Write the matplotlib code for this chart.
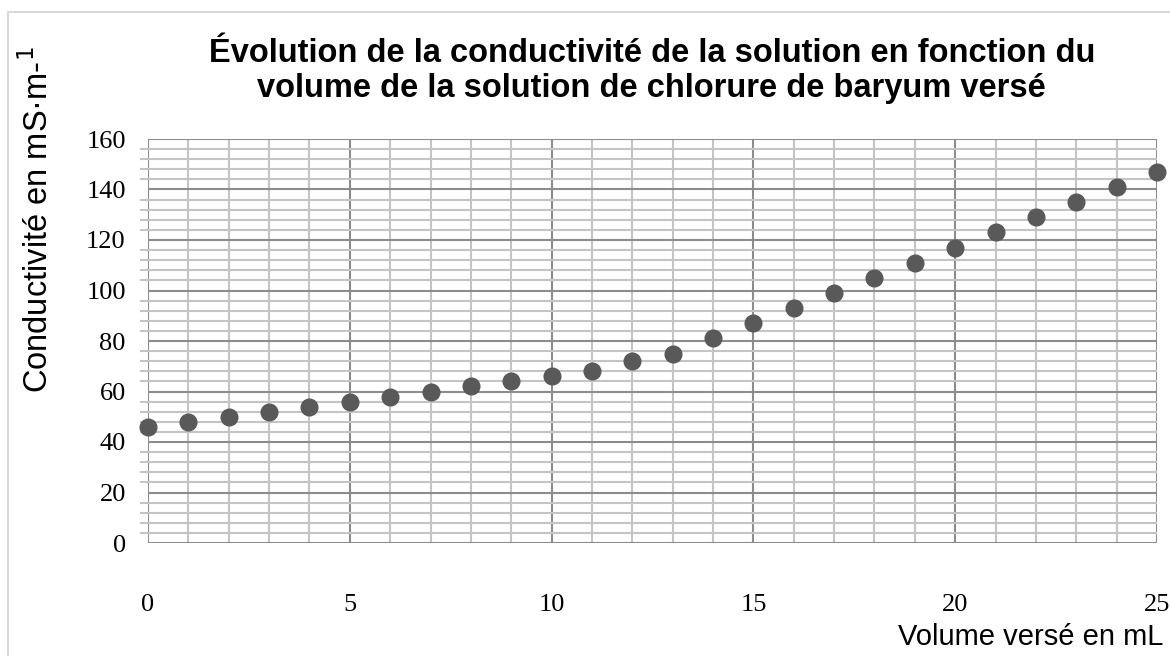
import matplotlib
matplotlib.use('Agg')
import matplotlib.pyplot as plt
from matplotlib.patches import Rectangle
from matplotlib.ticker import MultipleLocator

# volume verse (mL) et conductivite (mS/m)
volume = [0, 1, 2, 3, 4, 5, 6, 7, 8, 9, 10, 11, 12,
          13, 14, 15, 16, 17, 18, 19, 20, 21, 22, 23, 24, 25]
conductivite = [46, 48, 50, 52, 54, 56, 58, 60, 62, 64, 66, 68, 72,
                75, 81, 87, 93, 99, 105, 111, 117, 123, 129, 135, 141, 147]

titre = ("Évolution de la conductivité de la solution en fonction du\n"
         "volume de la solution de chlorure de baryum versé")
label_y = "Conductivité en mS·m-$^{1}$"
label_x = "Volume versé en mL"

fig = plt.figure(figsize=(11.7, 6.56), dpi=100)
# cadre gris clair autour du graphique
fig.patches.append(Rectangle((8 / 1170, -0.1), 1.2, 1 - 12 / 656 + 0.1,
                             transform=fig.transFigure, fill=False,
                             edgecolor='#d9d9d9', linewidth=1.5))

ax = fig.add_axes([148 / 1170, 1 - 543 / 656, (1157 - 148) / 1170, (543 - 139) / 656])
ax.set_xlim(0, 25)
ax.set_ylim(0, 160)

ax.xaxis.set_major_locator(MultipleLocator(5))
ax.xaxis.set_minor_locator(MultipleLocator(1))
ax.yaxis.set_major_locator(MultipleLocator(20))
ax.yaxis.set_minor_locator(MultipleLocator(4))

ax.grid(which='minor', color='#c4c4c4', linewidth=1.5)
ax.grid(which='major', color='#8c8c8c', linewidth=1.5)
ax.set_axisbelow(True)
for s in ax.spines.values():
    s.set_visible(False)

ax.tick_params(axis='x', which='both', length=0, pad=37)
ax.tick_params(axis='y', which='major', length=0, pad=16)
ax.tick_params(axis='y', which='minor', length=6, color='#c4c4c4', width=1.5)
for lab in ax.get_xticklabels() + ax.get_yticklabels():
    lab.set_family('Liberation Serif')
    lab.set_fontsize(19)

ax.plot(volume, conductivite, 'o', color='#595959', markersize=12,
        clip_on=False, zorder=5)

fig.text(0.557, 1 - 71 / 656, titre, ha='center', va='center', fontsize=23.5,
         fontweight='bold', family='Liberation Sans', linespacing=1.18)
fig.text(38 / 1170, 1 - 220 / 656, label_y, rotation=90, ha='center', va='center',
         fontsize=23.5, family='Liberation Sans')
fig.text(1163 / 1170, 1 - 637 / 656, label_x, ha='right', va='center',
         fontsize=21, family='Liberation Sans')

fig.savefig('out.png', dpi=100)
